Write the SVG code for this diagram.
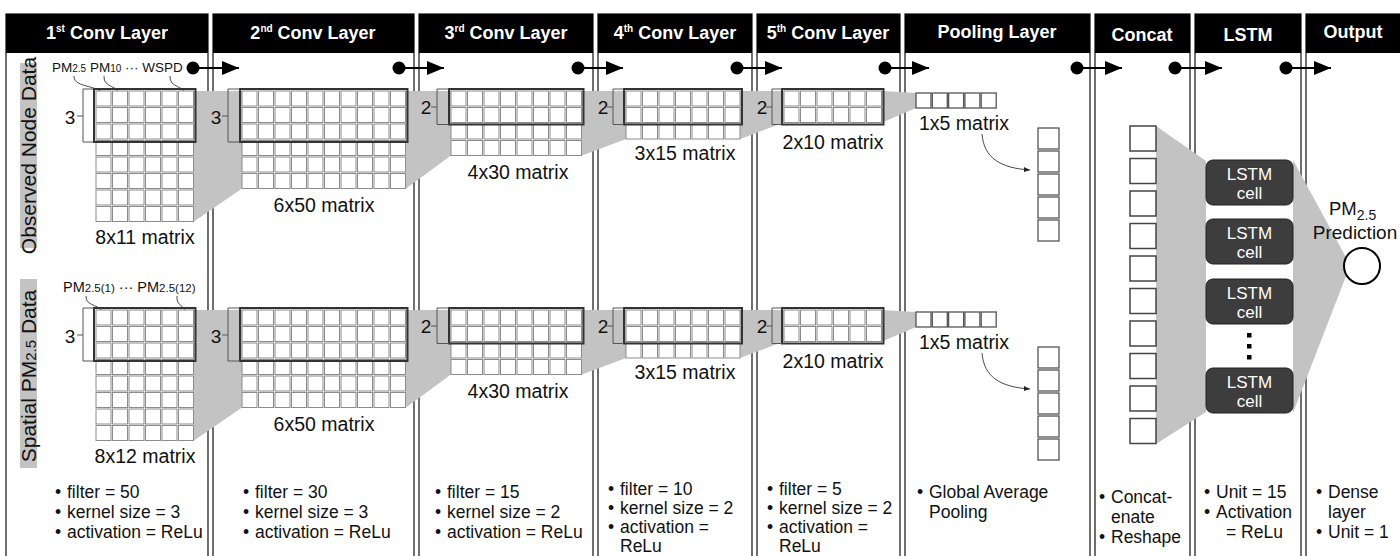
<svg xmlns="http://www.w3.org/2000/svg" xmlns:xlink="http://www.w3.org/1999/xlink" width="1400" height="556" viewBox="0 0 1400 556">
<style>
text{font-family:"Liberation Sans",Arial,sans-serif;fill:#111}
.panel{fill:#fff;stroke:#222;stroke-width:1.3}
.hdr{fill:#000}
.htxt{fill:#fff;font-weight:bold;font-size:18px;text-anchor:middle}
.cell{fill:#fff;stroke:#8c8c8c;stroke-width:1}
.hl{fill:none;stroke:#333;stroke-width:2}
.funnel{fill:#c3c3c3}
.lbl{font-size:19.5px;text-anchor:middle}
.brk{fill:none;stroke:#555;stroke-width:1}
.num{font-size:19px;text-anchor:middle}
.ptr{fill:none;stroke:#333;stroke-width:0.9}
.flow{stroke:#000;stroke-width:2.2;fill:none}
.pc{fill:#fff;stroke:#555;stroke-width:1.3}
.cc{fill:#fff;stroke:#444;stroke-width:1.5}
.lstm{fill:#3d3d3d;stroke:#222;stroke-width:1}
.ltxt{fill:#fff;font-size:17px;text-anchor:middle}
.bt{font-size:17.5px}
.side{fill:#c3c3c3}
.stxt{font-size:21px;text-anchor:middle}
.small{font-size:14.5px}
</style>
<defs>
<marker id="big" markerUnits="userSpaceOnUse" viewBox="0 0 17 14" refX="17" refY="7" markerWidth="17" markerHeight="14" orient="auto"><path d="M0,0 L17,7 L0,14 z" fill="#000"/></marker>
<marker id="sm" viewBox="0 0 10 10" refX="10" refY="5" markerWidth="7" markerHeight="7" orient="auto"><path d="M0,1 L10,5 L0,9 z" fill="#222"/></marker>
<g id="r6"><rect class="cell" x="0" y="0" width="15" height="15"/><rect class="cell" x="16.5" y="0" width="15" height="15"/><rect class="cell" x="33" y="0" width="15" height="15"/><rect class="cell" x="49.5" y="0" width="15" height="15"/><rect class="cell" x="66" y="0" width="15" height="15"/><rect class="cell" x="82.5" y="0" width="15" height="15"/></g>
<g id="r7"><use xlink:href="#r6"/><rect class="cell" x="99" y="0" width="15" height="15"/></g>
<g id="r8"><use xlink:href="#r7"/><rect class="cell" x="115.5" y="0" width="15" height="15"/></g>
<g id="r10"><use xlink:href="#r8"/><rect class="cell" x="132" y="0" width="15" height="15"/><rect class="cell" x="148.5" y="0" width="15" height="15"/></g>
<g id="p5"><rect class="pc" x="0" y="0" width="15" height="15"/><rect class="pc" x="16.3" y="0" width="15" height="15"/><rect class="pc" x="32.6" y="0" width="15" height="15"/><rect class="pc" x="48.9" y="0" width="15" height="15"/><rect class="pc" x="65.2" y="0" width="15" height="15"/></g>
<g id="v5"><rect class="pc" x="0" y="0" width="21" height="21"/><rect class="pc" x="0" y="23" width="21" height="21"/><rect class="pc" x="0" y="46" width="21" height="21"/><rect class="pc" x="0" y="69" width="21" height="21"/><rect class="pc" x="0" y="92" width="21" height="21"/></g>
</defs>

<g id="panels">
<rect class="panel" x="6" y="14" width="202" height="560"/><rect class="hdr" x="6" y="14" width="202" height="39"/>
<rect class="panel" x="213" y="14" width="201" height="560"/><rect class="hdr" x="213" y="14" width="201" height="39"/>
<rect class="panel" x="419" y="14" width="174" height="560"/><rect class="hdr" x="419" y="14" width="174" height="39"/>
<rect class="panel" x="598" y="14" width="154" height="560"/><rect class="hdr" x="598" y="14" width="154" height="39"/>
<rect class="panel" x="757" y="14" width="143" height="560"/><rect class="hdr" x="757" y="14" width="143" height="39"/>
<rect class="panel" x="905" y="14" width="185" height="560"/><rect class="hdr" x="905" y="14" width="185" height="39"/>
<rect class="panel" x="1095" y="14" width="95" height="560"/><rect class="hdr" x="1095" y="14" width="95" height="39"/>
<rect class="panel" x="1195" y="14" width="106" height="560"/><rect class="hdr" x="1195" y="14" width="106" height="39"/>
<rect class="panel" x="1306" y="14" width="100" height="560"/><rect class="hdr" x="1306" y="14" width="100" height="39"/>
</g>

<g id="headers">
<text class="htxt" x="107" y="39">1<tspan font-size="10" dy="-7">st</tspan><tspan dy="7"> Conv Layer</tspan></text>
<text class="htxt" x="313" y="39">2<tspan font-size="10" dy="-7">nd</tspan><tspan dy="7"> Conv Layer</tspan></text>
<text class="htxt" x="506" y="39">3<tspan font-size="10" dy="-7">rd</tspan><tspan dy="7"> Conv Layer</tspan></text>
<text class="htxt" x="675" y="39">4<tspan font-size="10" dy="-7">th</tspan><tspan dy="7"> Conv Layer</tspan></text>
<text class="htxt" x="828" y="39">5<tspan font-size="10" dy="-7">th</tspan><tspan dy="7"> Conv Layer</tspan></text>
<text class="htxt" x="997" y="38">Pooling Layer</text>
<text class="htxt" x="1142" y="41">Concat</text>
<text class="htxt" x="1248" y="41">LSTM</text>
<text class="htxt" x="1353" y="38">Output</text>
</g>

<g id="connectors">
<g id="flow-arrows">
<circle cx="193" cy="68" r="6.5"/><line class="flow" x1="193" y1="68" x2="239" y2="68" marker-end="url(#big)"/>
<circle cx="399" cy="68" r="6.5"/><line class="flow" x1="399" y1="68" x2="444" y2="68" marker-end="url(#big)"/>
<circle cx="578" cy="68" r="6.5"/><line class="flow" x1="578" y1="68" x2="623" y2="68" marker-end="url(#big)"/>
<circle cx="737" cy="68" r="6.5"/><line class="flow" x1="737" y1="68" x2="782" y2="68" marker-end="url(#big)"/>
<circle cx="885" cy="68" r="6.5"/><line class="flow" x1="885" y1="68" x2="929" y2="68" marker-end="url(#big)"/>
<circle cx="1077" cy="68" r="6.5"/><line class="flow" x1="1077" y1="68" x2="1122" y2="68" marker-end="url(#big)"/>
<circle cx="1175" cy="68" r="6.5"/><line class="flow" x1="1175" y1="68" x2="1222" y2="68" marker-end="url(#big)"/>
<circle cx="1286" cy="68" r="6.5"/><line class="flow" x1="1286" y1="68" x2="1331" y2="68" marker-end="url(#big)"/>
</g>
<g id="funnels-row1">
<polygon class="funnel" points="194,91 242,91 242,188.5 194,221.5"/>
<polygon class="funnel" points="406,91 451,91 451,155.5 406,188.5"/>
<polygon class="funnel" points="582,91 626,91 626,139 582,155.5"/>
<polygon class="funnel" points="740,91 784,91 784,122.5 740,139"/>
<polygon class="funnel" points="882,91 916,93 916,108 882,122.5"/>
<path class="ptr" d="M74,76 C73,89 104,84 104,98"/>
<path class="ptr" d="M104,76 C103,89 120,84 120,98"/>
<path class="ptr" d="M170,76 C169,89 186,84 186,98"/>
<path class="ptr" d="M982,134 C984,158 1000,168 1030,170" marker-end="url(#sm)"/>
</g>
<g id="funnels-row2" transform="translate(0,219)">
<polygon class="funnel" points="194,91 242,91 242,188.5 194,221.5"/>
<polygon class="funnel" points="406,91 451,91 451,155.5 406,188.5"/>
<polygon class="funnel" points="582,91 626,91 626,139 582,155.5"/>
<polygon class="funnel" points="740,91 784,91 784,122.5 740,139"/>
<polygon class="funnel" points="882,91 916,93 916,108 882,122.5"/>
<path class="ptr" d="M86,77 C85,89 104,84 104,98"/>
<path class="ptr" d="M177,77 C176,89 186,84 186,98"/>
<path class="ptr" d="M982,134 C984,158 1000,168 1030,170" marker-end="url(#sm)"/>
</g>
<polygon id="funnel-concat-lstm" class="funnel" points="1156,126 1206,161 1206,412 1156,444"/>
<polygon id="funnel-lstm-output" class="funnel" points="1293,160 1348,261 1348,271 1293,413"/>
</g>

<g id="side-observed">
<rect class="side" x="20" y="63" width="17" height="185"/>
<text class="stxt" transform="translate(36,155.5) rotate(-90)">Observed Node Data</text>
</g>
<g id="side-spatial">
<rect class="side" x="20" y="279" width="17" height="189"/>
<text class="stxt" transform="translate(36,376) rotate(-90)">Spatial PM<tspan font-size="15">2.5</tspan> Data</text>
</g>

<g id="row1">
<g id="inputs-row1">
<text x="52" y="72" font-size="13.5">PM<tspan font-size="10">2.5</tspan> PM<tspan font-size="10">10</tspan> ··· WSPD</text>
</g>
<g id="m1-row1">
<use xlink:href="#r6" x="96" y="91"/><use xlink:href="#r6" x="96" y="107.5"/><use xlink:href="#r6" x="96" y="124"/><use xlink:href="#r6" x="96" y="140.5"/><use xlink:href="#r6" x="96" y="157"/><use xlink:href="#r6" x="96" y="173.5"/><use xlink:href="#r6" x="96" y="190"/><use xlink:href="#r6" x="96" y="206.5"/>
<rect class="hl" x="94" y="89" width="101.5" height="53"/>
<path class="brk" d="M93,89 H83 V142 H93 M77,116 H83"/>
<text class="num" x="70" y="124">3</text>
<text class="lbl" x="145" y="244">8x11 matrix</text>
</g>
<g id="m2-row1">
<use xlink:href="#r10" x="242" y="91"/><use xlink:href="#r10" x="242" y="107.5"/><use xlink:href="#r10" x="242" y="124"/><use xlink:href="#r10" x="242" y="140.5"/><use xlink:href="#r10" x="242" y="157"/><use xlink:href="#r10" x="242" y="173.5"/>
<rect class="hl" x="240" y="89" width="167.5" height="53"/>
<path class="brk" d="M240,89 H228 V142 H240 M222,116 H228"/>
<text class="num" x="216" y="124">3</text>
<text class="lbl" x="324" y="212">6x50 matrix</text>
</g>
<g id="m3-row1">
<use xlink:href="#r8" x="451" y="91"/><use xlink:href="#r8" x="451" y="107.5"/><use xlink:href="#r8" x="451" y="124"/><use xlink:href="#r8" x="451" y="140.5"/>
<rect class="hl" x="449" y="89" width="134.5" height="35.5"/>
<path class="brk" d="M449,89 H437 V124.5 H449 M431,107 H437"/>
<text class="num" x="426" y="114">2</text>
<text class="lbl" x="518" y="179">4x30 matrix</text>
</g>
<g id="m4-row1">
<use xlink:href="#r7" x="626" y="91"/><use xlink:href="#r7" x="626" y="107.5"/><use xlink:href="#r7" x="626" y="124"/>
<rect class="hl" x="624" y="89" width="118" height="35.5"/>
<path class="brk" d="M624,89 H613 V124.5 H624 M607,107 H613"/>
<text class="num" x="603" y="114">2</text>
<text class="lbl" x="685" y="160">3x15 matrix</text>
</g>
<g id="m5-row1">
<use xlink:href="#r6" x="784" y="91"/><use xlink:href="#r6" x="784" y="107.5"/>
<rect class="hl" x="782" y="89" width="101.5" height="35.5"/>
<path class="brk" d="M782,89 H772 V124.5 H782 M766,107 H772"/>
<text class="num" x="762" y="114">2</text>
<text class="lbl" x="833" y="149">2x10 matrix</text>
</g>
<g id="pool-row1">
<use xlink:href="#p5" x="916" y="93"/>
<text class="lbl" x="964" y="130">1x5 matrix</text>
<use xlink:href="#v5" x="1038" y="128"/>
</g>
</g>

<g id="row2" transform="translate(0,219)">
<g id="inputs-row2">
<text class="small" x="63" y="73">PM<tspan font-size="11.5">2.5(1)</tspan> ··· PM<tspan font-size="11.5">2.5(12)</tspan></text>
</g>
<g id="m1-row2">
<use xlink:href="#r6" x="96" y="91"/><use xlink:href="#r6" x="96" y="107.5"/><use xlink:href="#r6" x="96" y="124"/><use xlink:href="#r6" x="96" y="140.5"/><use xlink:href="#r6" x="96" y="157"/><use xlink:href="#r6" x="96" y="173.5"/><use xlink:href="#r6" x="96" y="190"/><use xlink:href="#r6" x="96" y="206.5"/>
<rect class="hl" x="94" y="89" width="101.5" height="53"/>
<path class="brk" d="M93,89 H83 V142 H93 M77,116 H83"/>
<text class="num" x="70" y="124">3</text>
<text class="lbl" x="145" y="244">8x12 matrix</text>
</g>
<g id="m2-row2">
<use xlink:href="#r10" x="242" y="91"/><use xlink:href="#r10" x="242" y="107.5"/><use xlink:href="#r10" x="242" y="124"/><use xlink:href="#r10" x="242" y="140.5"/><use xlink:href="#r10" x="242" y="157"/><use xlink:href="#r10" x="242" y="173.5"/>
<rect class="hl" x="240" y="89" width="167.5" height="53"/>
<path class="brk" d="M240,89 H228 V142 H240 M222,116 H228"/>
<text class="num" x="216" y="124">3</text>
<text class="lbl" x="324" y="212">6x50 matrix</text>
</g>
<g id="m3-row2">
<use xlink:href="#r8" x="451" y="91"/><use xlink:href="#r8" x="451" y="107.5"/><use xlink:href="#r8" x="451" y="124"/><use xlink:href="#r8" x="451" y="140.5"/>
<rect class="hl" x="449" y="89" width="134.5" height="35.5"/>
<path class="brk" d="M449,89 H437 V124.5 H449 M431,107 H437"/>
<text class="num" x="426" y="114">2</text>
<text class="lbl" x="518" y="179">4x30 matrix</text>
</g>
<g id="m4-row2">
<use xlink:href="#r7" x="626" y="91"/><use xlink:href="#r7" x="626" y="107.5"/><use xlink:href="#r7" x="626" y="124"/>
<rect class="hl" x="624" y="89" width="118" height="35.5"/>
<path class="brk" d="M624,89 H613 V124.5 H624 M607,107 H613"/>
<text class="num" x="603" y="114">2</text>
<text class="lbl" x="685" y="160">3x15 matrix</text>
</g>
<g id="m5-row2">
<use xlink:href="#r6" x="784" y="91"/><use xlink:href="#r6" x="784" y="107.5"/>
<rect class="hl" x="782" y="89" width="101.5" height="35.5"/>
<path class="brk" d="M782,89 H772 V124.5 H782 M766,107 H772"/>
<text class="num" x="762" y="114">2</text>
<text class="lbl" x="833" y="149">2x10 matrix</text>
</g>
<g id="pool-row2">
<use xlink:href="#p5" x="916" y="93"/>
<text class="lbl" x="964" y="130">1x5 matrix</text>
<use xlink:href="#v5" x="1038" y="128"/>
</g>
</g>

<g id="concat">
<rect class="cc" x="1130" y="126" width="26" height="25"/>
<rect class="cc" x="1130" y="158.5" width="26" height="25"/>
<rect class="cc" x="1130" y="191" width="26" height="25"/>
<rect class="cc" x="1130" y="223.5" width="26" height="25"/>
<rect class="cc" x="1130" y="256" width="26" height="25"/>
<rect class="cc" x="1130" y="288.5" width="26" height="25"/>
<rect class="cc" x="1130" y="321" width="26" height="25"/>
<rect class="cc" x="1130" y="353.5" width="26" height="25"/>
<rect class="cc" x="1130" y="386" width="26" height="25"/>
<rect class="cc" x="1130" y="418.5" width="26" height="25"/>
</g>

<g id="lstm">
<rect class="lstm" x="1206" y="160" width="87" height="45" rx="7"/>
<text class="ltxt" x="1249.5" y="180">LSTM</text><text class="ltxt" x="1249.5" y="199">cell</text>
<rect class="lstm" x="1206" y="219" width="87" height="45" rx="7"/>
<text class="ltxt" x="1249.5" y="239">LSTM</text><text class="ltxt" x="1249.5" y="258">cell</text>
<rect class="lstm" x="1206" y="279" width="87" height="45" rx="7"/>
<text class="ltxt" x="1249.5" y="299">LSTM</text><text class="ltxt" x="1249.5" y="318">cell</text>
<rect x="1247" y="333" width="4.5" height="4.5" fill="#000"/>
<rect x="1247" y="344" width="4.5" height="4.5" fill="#000"/>
<rect x="1247" y="355" width="4.5" height="4.5" fill="#000"/>
<rect class="lstm" x="1206" y="368" width="87" height="45" rx="7"/>
<text class="ltxt" x="1249.5" y="388">LSTM</text><text class="ltxt" x="1249.5" y="407">cell</text>
</g>

<g id="output">
<text x="1329" y="215" font-size="18.5">PM<tspan font-size="14" dy="5">2.5</tspan></text>
<text x="1355" y="239" font-size="19" text-anchor="middle">Prediction</text>
<circle cx="1362" cy="266" r="18" fill="#fff" stroke="#000" stroke-width="2"/>
</g>

<g id="params">
<text class="bt"><tspan x="55" y="498">•</tspan><tspan x="67" y="498">filter = 50</tspan><tspan x="55" y="518">•</tspan><tspan x="67" y="518">kernel size = 3</tspan><tspan x="55" y="538">•</tspan><tspan x="67" y="538">activation = ReLu</tspan></text>
<text class="bt"><tspan x="243" y="498">•</tspan><tspan x="255" y="498">filter = 30</tspan><tspan x="243" y="518">•</tspan><tspan x="255" y="518">kernel size = 3</tspan><tspan x="243" y="538">•</tspan><tspan x="255" y="538">activation = ReLu</tspan></text>
<text class="bt"><tspan x="435" y="498">•</tspan><tspan x="447" y="498">filter = 15</tspan><tspan x="435" y="518">•</tspan><tspan x="447" y="518">kernel size = 2</tspan><tspan x="435" y="538">•</tspan><tspan x="447" y="538">activation = ReLu</tspan></text>
<text class="bt"><tspan x="608" y="495">•</tspan><tspan x="620" y="495">filter = 10</tspan><tspan x="608" y="514">•</tspan><tspan x="620" y="514">kernel size = 2</tspan><tspan x="608" y="533">•</tspan><tspan x="620" y="533">activation =</tspan><tspan x="620" y="552">ReLu</tspan></text>
<text class="bt"><tspan x="767" y="495">•</tspan><tspan x="779" y="495">filter = 5</tspan><tspan x="767" y="514">•</tspan><tspan x="779" y="514">kernel size = 2</tspan><tspan x="767" y="533">•</tspan><tspan x="779" y="533">activation =</tspan><tspan x="779" y="552">ReLu</tspan></text>
<text class="bt"><tspan x="917" y="498">•</tspan><tspan x="929" y="498">Global Average</tspan><tspan x="929" y="518">Pooling</tspan></text>
<text class="bt"><tspan x="1099" y="503">•</tspan><tspan x="1111" y="503">Concat-</tspan><tspan x="1111" y="523">enate</tspan><tspan x="1099" y="543">•</tspan><tspan x="1111" y="543">Reshape</tspan></text>
<text class="bt"><tspan x="1204" y="498">•</tspan><tspan x="1216" y="498">Unit = 15</tspan><tspan x="1204" y="518">•</tspan><tspan x="1216" y="518">Activation</tspan><tspan x="1226" y="538">= ReLu</tspan></text>
<text class="bt"><tspan x="1316" y="498">•</tspan><tspan x="1328" y="498">Dense</tspan><tspan x="1328" y="518">layer</tspan><tspan x="1316" y="538">•</tspan><tspan x="1328" y="538">Unit = 1</tspan></text>
</g>
</svg>
